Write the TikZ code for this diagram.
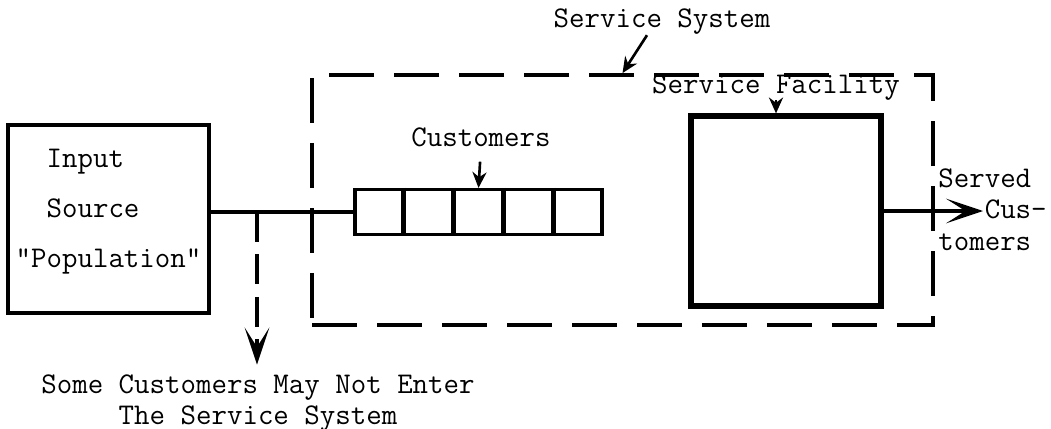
\documentclass[tikz,border=0pt]{standalone}
\usepackage{fontspec}
\usetikzlibrary{arrows.meta,calc}
\newcommand{\typed}{\ttfamily\fontsize{17.1}{14.8}\selectfont\lineskiplimit=-8pt}
\tikzset{
 box/.style={draw,line width=2.2pt,inner sep=0pt,align=left,font=\typed},
 lbl/.style={inner sep=0pt,align=left,font=\typed},
 arrow/.style={-{Stealth[length=21pt,width=14pt,inset=11pt]},line width=2.2pt},
 pointer/.style={-{Stealth[length=9pt,width=8pt]},line width=1.5pt},
 sysline/.style={draw,line width=2.2pt,dash pattern=on 0.9cm off 0.4cm},
}

\begin{document}
\begin{tikzpicture}[x=0.02cm,y=-0.02cm]
\useasboundingbox (0,0) rectangle (1051,429);
\node[sysline,inner sep=0pt,minimum width=12.42cm,minimum height=5cm] (sys) at (622.5,200) {};
\node[box,minimum width=4.02cm,minimum height=3.76cm] (src) at (108.5,219)
  {\hphantom{xx}Input\\[13.5pt]\hphantom{xx}Source\\[13.5pt]"Population"\rule[-0.42cm]{0pt}{0pt}};
\node[draw,line width=1.8pt,inner sep=0pt,minimum width=4.94cm,minimum height=0.9cm] (queue) at (478.5,212) {};
\foreach \i in {1,...,4}
  \draw[line width=2.4pt] ($(queue.north west)!\i/5!(queue.north east)$) -- ($(queue.south west)!\i/5!(queue.south east)$);
\node[box,line width=3pt,minimum width=3.8cm,minimum height=3.8cm] (fac) at (786,211) {};
\node[lbl,anchor=base] (syslbl) at (662,28) {Service System};
\node[lbl,anchor=base] (quelbl) at (481,146) {Customers};
\node[lbl,anchor=base] (faclbl) at (776,93) {Service Facility};
\node[lbl,anchor=base west] (served) at (938,250) {Served\\[3pt]\hphantom{xxx}Cus-\\[3pt]tomers};
\node[lbl,align=center,anchor=base] (balk) at (258,424) {Some Customers May Not Enter\\[2.5pt]The Service System};
\coordinate (branch) at (257,212);
\coordinate (out) at (983,211);
\draw[line width=2pt] (src.east |- queue.west) -- (queue.west);
\draw[arrow,dash pattern=on 0.6cm off 0.25cm] (branch) -- ([yshift=0.2cm]balk.north -| branch);
\draw[arrow] (fac.east) -- (fac.east -| out);
\draw[pointer] ($(syslbl.south)+(-15,0)$) -- (sys.north);
\draw[pointer,shorten <=0.3cm] (quelbl.south) -- (queue.north);
\draw[pointer] (faclbl.south) -- (faclbl.south |- fac.north);
\end{tikzpicture}
\end{document}
